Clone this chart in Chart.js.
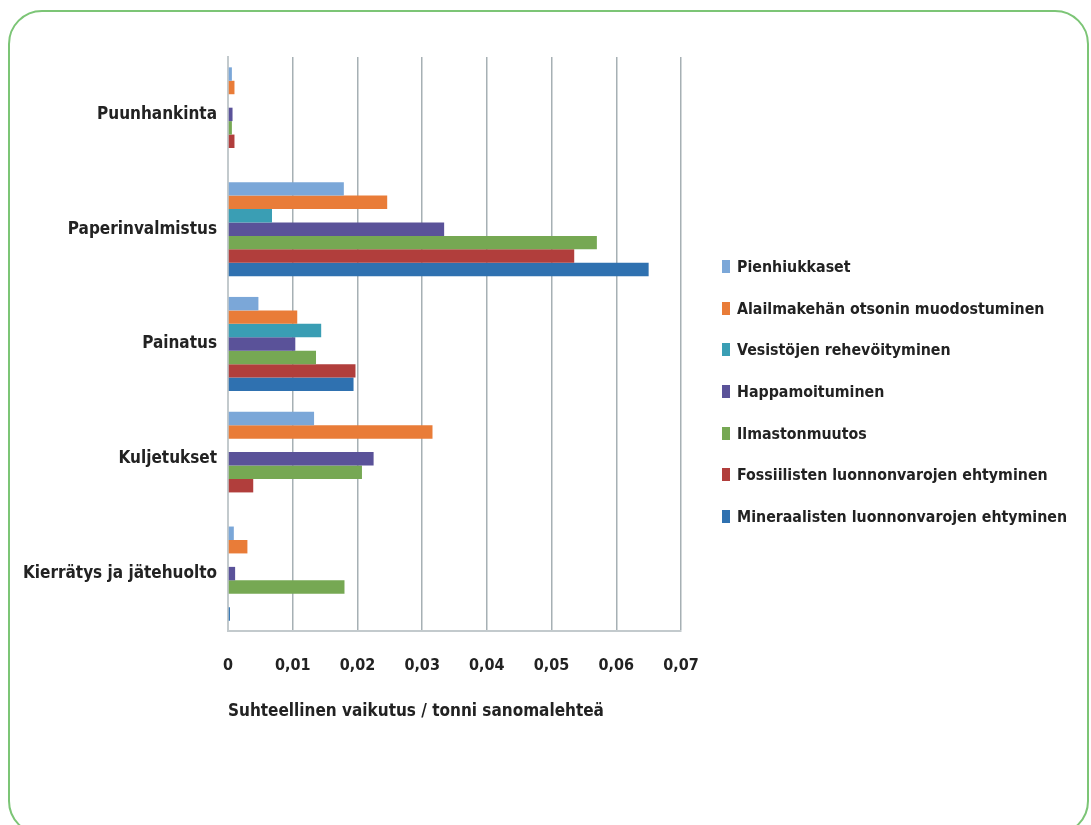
<!DOCTYPE html>
<html>
<head>
<meta charset="utf-8">
<script src="https://cdn.jsdelivr.net/npm/chart.js@4.4.1/dist/chart.umd.min.js"></script>
<style>
  html, body { margin: 0; padding: 0; background: #ffffff; overflow: hidden; }
  #wrap { position: relative; width: 1091px; height: 825px; }
  #frame {
    position: absolute; left: 8px; top: 10px; width: 1081px; height: 825px;
    border: 2.5px solid #7cc576; border-radius: 34px; box-sizing: border-box;
  }
  #chart { position: absolute; left: 0; top: 0; }
  #legend {
    position: absolute; left: 722px; top: 246px; margin: 0; padding: 0; list-style: none;
    font: bold 15.8px 'DejaVu Sans Condensed', 'Liberation Sans Narrow', sans-serif;
    color: #222222;
  }
  #legend li { height: 41.6px; display: flex; align-items: center; white-space: nowrap; }
  #legend .box { display: inline-block; width: 8px; height: 13px; margin-right: 7px; }
</style>
</head>
<body>
<div id="wrap">
  <div id="frame"></div>
  <canvas id="chart" width="1091" height="825"></canvas>
  <ul id="legend"></ul>
</div>
<script>
// Life-cycle stages of a newspaper
const categories = ['Puunhankinta', 'Paperinvalmistus', 'Painatus', 'Kuljetukset', 'Kierrätys ja jätehuolto'];

// Impact categories (legend order)
const seriesNames = [
  'Pienhiukkaset',
  'Alailmakehän otsonin muodostuminen',
  'Vesistöjen rehevöityminen',
  'Happamoituminen',
  'Ilmastonmuutos',
  'Fossiilisten luonnonvarojen ehtyminen',
  'Mineraalisten luonnonvarojen ehtyminen'
];

// Relative impact per tonne of newspaper, one value per stage
const pienhiukkaset          = [0.0006, 0.0179, 0.0047, 0.0133, 0.0009];
const alailmakehanOtsoni     = [0.0010, 0.0246, 0.0107, 0.0316, 0.0030];
const vesistojenRehevoitymin = [0.0000, 0.0068, 0.0144, 0.0000, 0.0000];
const happamoituminen        = [0.0007, 0.0334, 0.0104, 0.0225, 0.0011];
const ilmastonmuutos         = [0.0006, 0.0570, 0.0136, 0.0207, 0.0180];
const fossiilistenEhtyminen  = [0.0010, 0.0535, 0.0197, 0.0039, 0.0000];
const mineraalistenEhtyminen = [0.0000, 0.0650, 0.0194, 0.0000, 0.0003];

const seriesValues = [
  pienhiukkaset, alailmakehanOtsoni, vesistojenRehevoitymin, happamoituminen,
  ilmastonmuutos, fossiilistenEhtyminen, mineraalistenEhtyminen
];
const seriesColors = ['#7ba7d8', '#e97c38', '#3a9eb4', '#5a5299', '#76a853', '#b13e3c', '#2f71b0'];

// Axis tick labels (Finnish decimal comma)
const xTickLabels = ['0', '0,01', '0,02', '0,03', '0,04', '0,05', '0,06', '0,07'];
const xTitle = 'Suhteellinen vaikutus / tonni sanomalehteä';

const FONT = "'DejaVu Sans Condensed', 'Liberation Sans Narrow', sans-serif";

const chart = new Chart(document.getElementById('chart'), {
  type: 'bar',
  data: {
    labels: categories,
    datasets: seriesNames.map((name, i) => ({
      label: name,
      data: seriesValues[i],
      backgroundColor: seriesColors[i],
      borderWidth: 0,
      categoryPercentage: 0.82,
      barPercentage: 1.0
    }))
  },
  options: {
    indexAxis: 'y',
    responsive: false,
    animation: false,
    layout: { padding: { left: 20, right: 410, top: 57, bottom: 100 } },
    plugins: {
      legend: { display: false },
      tooltip: { enabled: false }
    },
    scales: {
      x: {
        min: 0,
        max: 0.07,
        ticks: {
          stepSize: 0.01,
          padding: 25,
          color: '#222222',
          font: { family: FONT, size: 16, weight: 'bold' },
          callback: (v, i) => xTickLabels[i]
        },
        grid: { color: '#a6b0b4', lineWidth: 1.5, drawTicks: false },
        border: { display: true, color: '#c3cacd', width: 2 },
        title: {
          display: true,
          text: xTitle,
          align: 'start',
          color: '#222222',
          font: { family: FONT, size: 17, weight: 'bold' },
          padding: { top: 0, bottom: 3 }
        },
        afterFit: (scale) => { scale.height = 94; }
      },
      y: {
        ticks: {
          padding: 11,
          color: '#222222',
          font: { family: FONT, size: 17, weight: 'bold' }
        },
        grid: { display: false, drawTicks: false },
        border: { display: true, color: '#c3cacd', width: 2 },
        afterFit: (scale) => { scale.width = 208; }
      }
    }
  }
});

// Legend list built from the chart's datasets
const legendEl = document.getElementById('legend');
chart.data.datasets.forEach((ds) => {
  const li = document.createElement('li');
  const box = document.createElement('span');
  box.className = 'box';
  box.style.background = ds.backgroundColor;
  li.appendChild(box);
  li.appendChild(document.createTextNode(ds.label));
  legendEl.appendChild(li);
});
</script>
</body>
</html>
